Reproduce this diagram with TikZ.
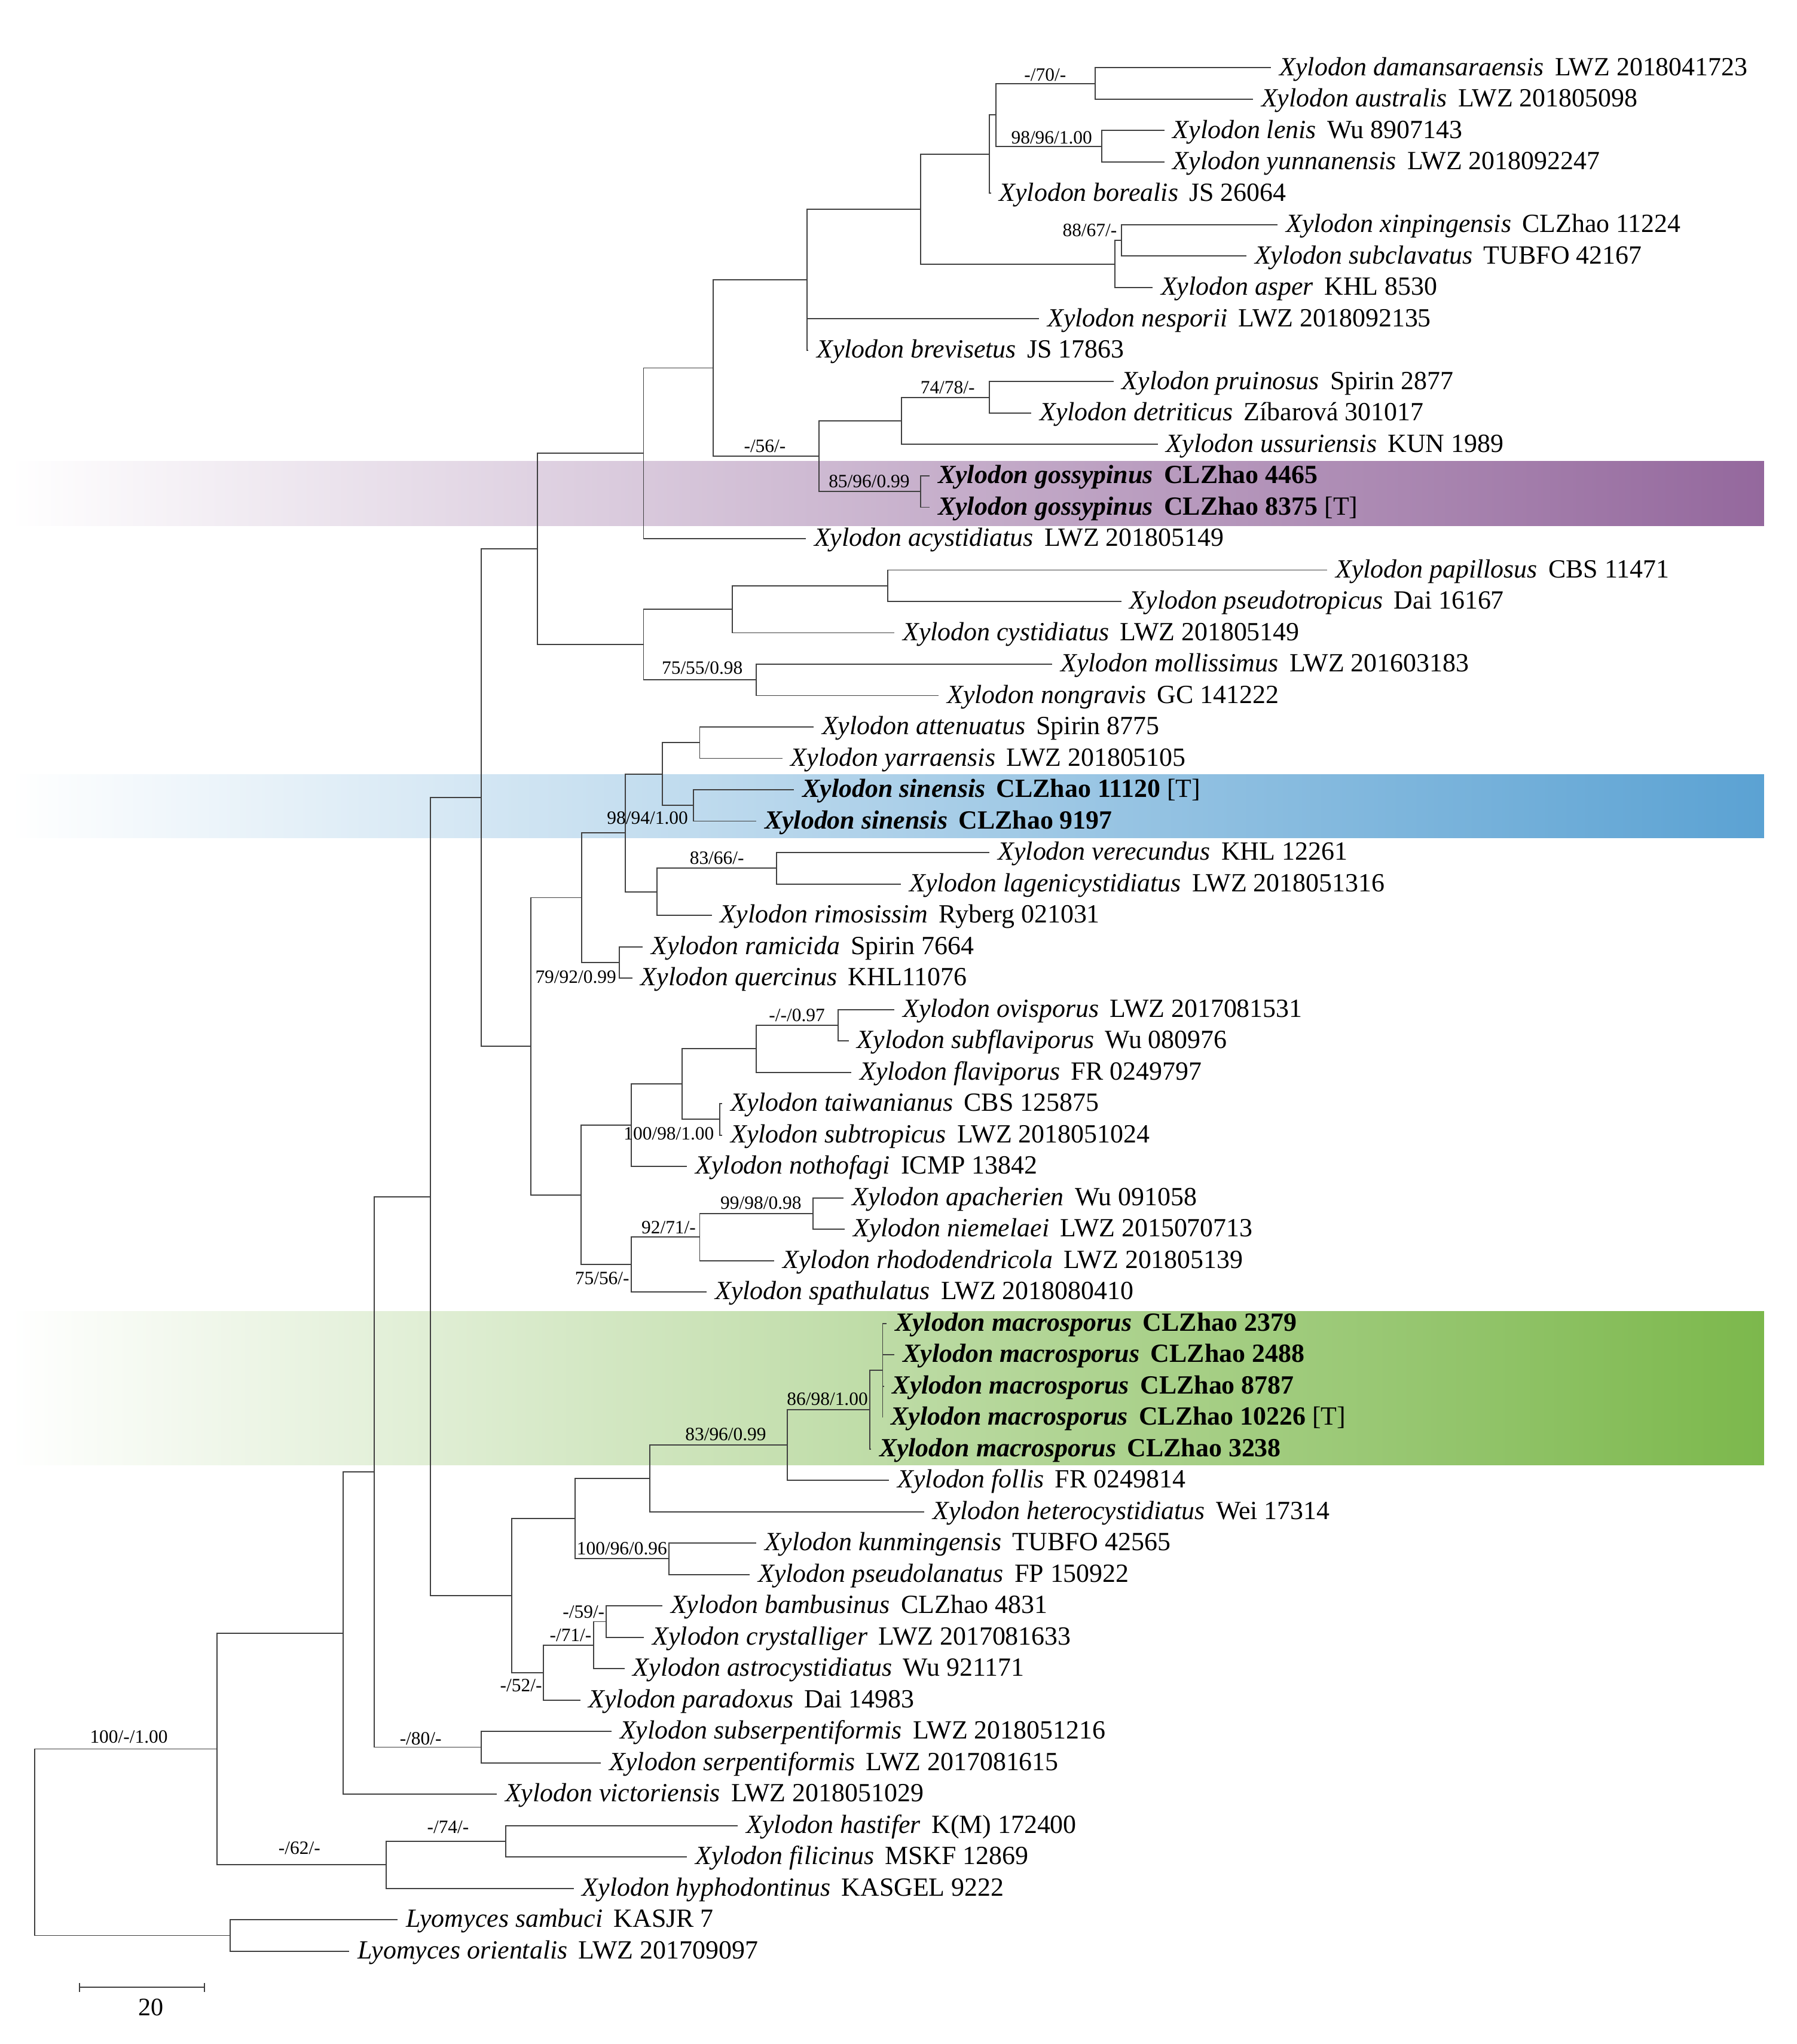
\documentclass[tikz,border=0pt]{standalone}
\usepackage{fontspec}
\setmainfont{Liberation Serif}

\definecolor{gossypinus}{RGB}{148,104,157}
\definecolor{sinensis}{RGB}{91,162,211}
\definecolor{macrosporus}{RGB}{124,184,76}

\newcommand{\taxon}[2]{\textit{#1}\hspace{0.42em}#2}
\newcommand{\newsp}[2]{\textbf{\textit{#1}\hspace{0.42em}#2}}

\tikzset{
  branch/.style={draw=black!75,line width=0.5pt},
  leaf/.style={anchor=west,inner xsep=3.5pt,inner ysep=0pt,text height=0.66em,text depth=0pt,font=\fontsize{11.45}{13}\selectfont},
  supp/.style={anchor=east,inner sep=0pt,text height=0.7em,text depth=0pt,font=\fontsize{8.2}{9}\selectfont},
}

\begin{document}
\begin{tikzpicture}[x=0.02cm,y=-0.4816cm]
\useasboundingbox (0,-1.1595) rectangle (1378,63.957);

%new species
\shade[left color=white,right color=gossypinus] (8,13.54) rectangle (1353,15.6);
\shade[left color=white,right color=sinensis] (8,23.51) rectangle (1353,25.54);
\shade[left color=white,right color=macrosporus] (8,40.62) rectangle (1353,45.52);

%taxa
\node[leaf] (t1) at (975,1) {\taxon{Xylodon damansaraensis}{LWZ 2018041723}};
\node[leaf] (t2) at (961,2) {\taxon{Xylodon australis}{LWZ 201805098}};
\node[leaf] (t3) at (893,3) {\taxon{Xylodon lenis}{Wu 8907143}};
\node[leaf] (t4) at (893,4) {\taxon{Xylodon yunnanensis}{LWZ 2018092247}};
\node[leaf] (t5) at (760,5) {\taxon{Xylodon borealis}{JS 26064}};
\node[leaf] (t6) at (980,6) {\taxon{Xylodon xinpingensis}{CLZhao 11224}};
\node[leaf] (t7) at (956,7) {\taxon{Xylodon subclavatus}{TUBFO 42167}};
\node[leaf] (t8) at (884,8) {\taxon{Xylodon asper}{KHL 8530}};
\node[leaf] (t9) at (797,9) {\taxon{Xylodon nesporii}{LWZ 2018092135}};
\node[leaf] (t10) at (620,10) {\taxon{Xylodon brevisetus}{JS 17863}};
\node[leaf] (t11) at (854,11) {\taxon{Xylodon pruinosus}{Spirin 2877}};
\node[leaf] (t12) at (791,12) {\taxon{Xylodon detriticus}{Zíbarová 301017}};
\node[leaf] (t13) at (888,13) {\taxon{Xylodon ussuriensis}{KUN 1989}};
\node[leaf] (t14) at (713,14) {\newsp{Xylodon gossypinus}{CLZhao 4465}};
\node[leaf] (t15) at (713,15) {\newsp{Xylodon gossypinus}{CLZhao 8375} [T]};
\node[leaf] (t16) at (618,16) {\taxon{Xylodon acystidiatus}{LWZ 201805149}};
\node[leaf] (t17) at (1018,17) {\taxon{Xylodon papillosus}{CBS 11471}};
\node[leaf] (t18) at (860,18) {\taxon{Xylodon pseudotropicus}{Dai 16167}};
\node[leaf] (t19) at (686,19) {\taxon{Xylodon cystidiatus}{LWZ 201805149}};
\node[leaf] (t20) at (807,20) {\taxon{Xylodon mollissimus}{LWZ 201603183}};
\node[leaf] (t21) at (720,21) {\taxon{Xylodon nongravis}{GC 141222}};
\node[leaf] (t22) at (624,22) {\taxon{Xylodon attenuatus}{Spirin 8775}};
\node[leaf] (t23) at (600,23) {\taxon{Xylodon yarraensis}{LWZ 201805105}};
\node[leaf] (t24) at (609,24) {\newsp{Xylodon sinensis}{CLZhao 11120} [T]};
\node[leaf] (t25) at (580,25) {\newsp{Xylodon sinensis}{CLZhao 9197}};
\node[leaf] (t26) at (759,26) {\taxon{Xylodon verecundus}{KHL 12261}};
\node[leaf] (t27) at (691,27) {\taxon{Xylodon lagenicystidiatus}{LWZ 2018051316}};
\node[leaf] (t28) at (546,28) {\taxon{Xylodon rimosissim}{Ryberg 021031}};
\node[leaf] (t29) at (493,29) {\taxon{Xylodon ramicida}{Spirin 7664}};
\node[leaf] (t30) at (485,30) {\taxon{Xylodon quercinus}{KHL11076}};
\node[leaf] (t31) at (686,31) {\taxon{Xylodon ovisporus}{LWZ 2017081531}};
\node[leaf] (t32) at (651,32) {\taxon{Xylodon subflaviporus}{Wu 080976}};
\node[leaf] (t33) at (653,33) {\taxon{Xylodon flaviporus}{FR 0249797}};
\node[leaf] (t34) at (554,34) {\taxon{Xylodon taiwanianus}{CBS 125875}};
\node[leaf] (t35) at (554,35) {\taxon{Xylodon subtropicus}{LWZ 2018051024}};
\node[leaf] (t36) at (527,36) {\taxon{Xylodon nothofagi}{ICMP 13842}};
\node[leaf] (t37) at (647,37) {\taxon{Xylodon apacherien}{Wu 091058}};
\node[leaf] (t38) at (648,38) {\taxon{Xylodon niemelaei}{LWZ 2015070713}};
\node[leaf] (t39) at (594,39) {\taxon{Xylodon rhododendricola}{LWZ 201805139}};
\node[leaf] (t40) at (542,40) {\taxon{Xylodon spathulatus}{LWZ 2018080410}};
\node[leaf] (t41) at (680,41) {\newsp{Xylodon macrosporus}{CLZhao 2379}};
\node[leaf] (t42) at (686,42) {\newsp{Xylodon macrosporus}{CLZhao 2488}};
\node[leaf] (t43) at (678,43) {\newsp{Xylodon macrosporus}{CLZhao 8787}};
\node[leaf] (t44) at (677,44) {\newsp{Xylodon macrosporus}{CLZhao 10226} [T]};
\node[leaf] (t45) at (668,45) {\newsp{Xylodon macrosporus}{CLZhao 3238}};
\node[leaf] (t46) at (682,46) {\taxon{Xylodon follis}{FR 0249814}};
\node[leaf] (t47) at (709,47) {\taxon{Xylodon heterocystidiatus}{Wei 17314}};
\node[leaf] (t48) at (580,48) {\taxon{Xylodon kunmingensis}{TUBFO 42565}};
\node[leaf] (t49) at (575,49) {\taxon{Xylodon pseudolanatus}{FP 150922}};
\node[leaf] (t50) at (508,50) {\taxon{Xylodon bambusinus}{CLZhao 4831}};
\node[leaf] (t51) at (494,51) {\taxon{Xylodon crystalliger}{LWZ 2017081633}};
\node[leaf] (t52) at (479,52) {\taxon{Xylodon astrocystidiatus}{Wu 921171}};
\node[leaf] (t53) at (445,53) {\taxon{Xylodon paradoxus}{Dai 14983}};
\node[leaf] (t54) at (469,54) {\taxon{Xylodon subserpentiformis}{LWZ 2018051216}};
\node[leaf] (t55) at (461,55) {\taxon{Xylodon serpentiformis}{LWZ 2017081615}};
\node[leaf] (t56) at (381,56) {\taxon{Xylodon victoriensis}{LWZ 2018051029}};
\node[leaf] (t57) at (566,57) {\taxon{Xylodon hastifer}{K(M) 172400}};
\node[leaf] (t58) at (527,58) {\taxon{Xylodon filicinus}{MSKF 12869}};
\node[leaf] (t59) at (440,59) {\taxon{Xylodon hyphodontinus}{KASGEL 9222}};
\node[leaf] (t60) at (305,60) {\taxon{Lyomyces sambuci}{KASJR 7}};
\node[leaf] (t61) at (268,61) {\taxon{Lyomyces orientalis}{LWZ 201709097}};

%internal nodes
\coordinate (nV) at (840,1.5);
\coordinate (nW) at (845,3.5);
\coordinate (nU) at (764,2.5);
\coordinate (nS) at (759,3.75);
\coordinate (nX) at (860,6.5);
\coordinate (nT) at (855,7.25);
\coordinate (nR) at (706,5.5);
\coordinate (nP) at (619,7.75);
\coordinate (nY2) at (759,11.5);
\coordinate (nY) at (691.5,12.25);
\coordinate (nZ) at (706,14.5);
\coordinate (nQ) at (628,13.375);
\coordinate (nO) at (547,10.5625);
\coordinate (nL) at (493.6,13.28125);
\coordinate (nAC) at (681,17.5);
\coordinate (nAA) at (561.5,18.25);
\coordinate (nAB) at (580,20.5);
\coordinate (nN) at (493.6,19.375);
\coordinate (nJ) at (412,16.328125);
\coordinate (nAJ) at (536.7,22.5);
\coordinate (nAK) at (532,24.5);
\coordinate (nAH) at (508,23.5);
\coordinate (nAL) at (595.5,26.5);
\coordinate (nAI) at (503.7,27.25);
\coordinate (nAF) at (479.5,25.375);
\coordinate (nAG) at (475,29.5);
\coordinate (nAD) at (446,27.4375);
\coordinate (nAR) at (643,31.5);
\coordinate (nAP) at (580,32.25);
\coordinate (nAQ) at (552,34.5);
\coordinate (nAO) at (523,33.375);
\coordinate (nAM) at (484,34.6875);
\coordinate (nAT) at (623.7,37.5);
\coordinate (nAS) at (536.7,38.25);
\coordinate (nAN) at (484,39.125);
\coordinate (nAE) at (445.7,36.90625);
\coordinate (nK) at (407,32.171875);
\coordinate (nE) at (369,24.25);
\coordinate (nM2) at (677,42.5);
\coordinate (nM) at (667,43.75);
\coordinate (nI) at (604,44.875);
\coordinate (nH) at (498.6,45.9375);
\coordinate (nKP) at (513,48.5);
\coordinate (nG) at (441,47.21875);
\coordinate (n59) at (465,50.5);
\coordinate (n71) at (455.5,51.25);
\coordinate (n52) at (416.7,52.125);
\coordinate (nF) at (392.6,49.671875);
\coordinate (nD) at (330,36.9609375);
\coordinate (n80) at (369,54.5);
\coordinate (nC) at (287,45.73046875);
\coordinate (nB) at (263,50.865234);
\coordinate (n74) at (388,57.5);
\coordinate (n62) at (296,58.25);
\coordinate (nA) at (166.4,54.557617);
\coordinate (nLy) at (176.5,60.5);
\coordinate (root) at (26.7,57.528809);

%branches
\draw[branch] (nV) |- (t1.west);
\draw[branch] (nV) |- (t2.west);
\draw[branch] (nW) |- (t3.west);
\draw[branch] (nW) |- (t4.west);
\draw[branch] (nU) |- (nV);
\draw[branch] (nU) |- (nW);
\draw[branch] (nS) |- (nU);
\draw[branch] (nS) |- (t5.west);
\draw[branch] (nX) |- (t6.west);
\draw[branch] (nX) |- (t7.west);
\draw[branch] (nT) |- (nX);
\draw[branch] (nT) |- (t8.west);
\draw[branch] (nR) |- (nS);
\draw[branch] (nR) |- (nT);
\draw[branch] (nP) |- (nR);
\draw[branch] (nP) |- (t9.west);
\draw[branch] (nP) |- (t10.west);
\draw[branch] (nY2) |- (t11.west);
\draw[branch] (nY2) |- (t12.west);
\draw[branch] (nY) |- (nY2);
\draw[branch] (nY) |- (t13.west);
\draw[branch] (nZ) |- (t14.west);
\draw[branch] (nZ) |- (t15.west);
\draw[branch] (nQ) |- (nY);
\draw[branch] (nQ) |- (nZ);
\draw[branch] (nO) |- (nP);
\draw[branch] (nO) |- (nQ);
\draw[branch] (nL) |- (nO);
\draw[branch] (nL) |- (t16.west);
\draw[branch] (nAC) |- (t17.west);
\draw[branch] (nAC) |- (t18.west);
\draw[branch] (nAA) |- (nAC);
\draw[branch] (nAA) |- (t19.west);
\draw[branch] (nAB) |- (t20.west);
\draw[branch] (nAB) |- (t21.west);
\draw[branch] (nN) |- (nAA);
\draw[branch] (nN) |- (nAB);
\draw[branch] (nJ) |- (nL);
\draw[branch] (nJ) |- (nN);
\draw[branch] (nAJ) |- (t22.west);
\draw[branch] (nAJ) |- (t23.west);
\draw[branch] (nAK) |- (t24.west);
\draw[branch] (nAK) |- (t25.west);
\draw[branch] (nAH) |- (nAJ);
\draw[branch] (nAH) |- (nAK);
\draw[branch] (nAL) |- (t26.west);
\draw[branch] (nAL) |- (t27.west);
\draw[branch] (nAI) |- (nAL);
\draw[branch] (nAI) |- (t28.west);
\draw[branch] (nAF) |- (nAH);
\draw[branch] (nAF) |- (nAI);
\draw[branch] (nAG) |- (t29.west);
\draw[branch] (nAG) |- (t30.west);
\draw[branch] (nAD) |- (nAF);
\draw[branch] (nAD) |- (nAG);
\draw[branch] (nAR) |- (t31.west);
\draw[branch] (nAR) |- (t32.west);
\draw[branch] (nAP) |- (nAR);
\draw[branch] (nAP) |- (t33.west);
\draw[branch] (nAQ) |- (t34.west);
\draw[branch] (nAQ) |- (t35.west);
\draw[branch] (nAO) |- (nAP);
\draw[branch] (nAO) |- (nAQ);
\draw[branch] (nAM) |- (nAO);
\draw[branch] (nAM) |- (t36.west);
\draw[branch] (nAT) |- (t37.west);
\draw[branch] (nAT) |- (t38.west);
\draw[branch] (nAS) |- (nAT);
\draw[branch] (nAS) |- (t39.west);
\draw[branch] (nAN) |- (nAS);
\draw[branch] (nAN) |- (t40.west);
\draw[branch] (nAE) |- (nAM);
\draw[branch] (nAE) |- (nAN);
\draw[branch] (nK) |- (nAD);
\draw[branch] (nK) |- (nAE);
\draw[branch] (nE) |- (nJ);
\draw[branch] (nE) |- (nK);
\draw[branch] (nM2) |- (t41.west);
\draw[branch] (nM2) |- (t42.west);
\draw[branch] (nM2) |- (t43.west);
\draw[branch] (nM2) |- (t44.west);
\draw[branch] (nM) |- (nM2);
\draw[branch] (nM) |- (t45.west);
\draw[branch] (nI) |- (nM);
\draw[branch] (nI) |- (t46.west);
\draw[branch] (nH) |- (nI);
\draw[branch] (nH) |- (t47.west);
\draw[branch] (nKP) |- (t48.west);
\draw[branch] (nKP) |- (t49.west);
\draw[branch] (nG) |- (nH);
\draw[branch] (nG) |- (nKP);
\draw[branch] (n59) |- (t50.west);
\draw[branch] (n59) |- (t51.west);
\draw[branch] (n71) |- (n59);
\draw[branch] (n71) |- (t52.west);
\draw[branch] (n52) |- (n71);
\draw[branch] (n52) |- (t53.west);
\draw[branch] (nF) |- (nG);
\draw[branch] (nF) |- (n52);
\draw[branch] (nD) |- (nE);
\draw[branch] (nD) |- (nF);
\draw[branch] (n80) |- (t54.west);
\draw[branch] (n80) |- (t55.west);
\draw[branch] (nC) |- (nD);
\draw[branch] (nC) |- (n80);
\draw[branch] (nB) |- (nC);
\draw[branch] (nB) |- (t56.west);
\draw[branch] (n74) |- (t57.west);
\draw[branch] (n74) |- (t58.west);
\draw[branch] (n62) |- (n74);
\draw[branch] (n62) |- (t59.west);
\draw[branch] (nA) |- (nB);
\draw[branch] (nA) |- (n62);
\draw[branch] (nLy) |- (t60.west);
\draw[branch] (nLy) |- (t61.west);
\draw[branch] (root) |- (nA);
\draw[branch] (root) |- (nLy);

%support values
\node[supp] (s1) at (818,1.17) {-/70/-};
\node[supp] (s2) at (838,3.16) {98/96/1.00};
\node[supp] (s3) at (857,6.11) {88/67/-};
\node[supp] (s4) at (748,11.13) {74/78/-};
\node[supp] (s5) at (603,13.0) {-/56/-};
\node[supp] (s6) at (698,14.12) {85/96/0.99};
\node[supp] (s7) at (570,20.06) {75/55/0.98};
\node[supp] (s8) at (528,24.84) {98/94/1.00};
\node[supp] (s9) at (571,26.12) {83/66/-};
\node[supp] (s10) at (473,29.9) {79/92/0.99};
\node[supp] (s11) at (633,31.12) {-/-/0.97};
\node[supp] (s12) at (548,34.9) {100/98/1.00};
\node[supp] (s13) at (615,37.1) {99/98/0.98};
\node[supp] (s14) at (534,37.89) {92/71/-};
\node[supp] (s15) at (483,39.5) {75/56/-};
\node[supp] (s16) at (666,43.36) {86/98/1.00};
\node[supp] (s17) at (588,44.48) {83/96/0.99};
\node[supp] (s18) at (512,48.12) {100/96/0.96};
\node[supp] (s19) at (464,50.13) {-/59/-};
\node[supp] (s20) at (454,50.88) {-/71/-};
\node[supp] (s21) at (416,52.48) {-/52/-};
\node[supp] (s22) at (339,54.16) {-/80/-};
\node[supp] (s23) at (129,54.11) {100/-/1.00};
\node[supp] (s24) at (246,57.66) {-/62/-};
\node[supp] (s25) at (360,56.98) {-/74/-};

%scale bar
\coordinate (sbl) at (61,62.15);
\coordinate (sbr) at (157,62.15);
\draw[branch] (sbl) -- (sbr);
\draw[branch] ([yshift=2pt]sbl) -- ([yshift=-2pt]sbl);
\draw[branch] ([yshift=2pt]sbr) -- ([yshift=-2pt]sbr);
\node[inner sep=0pt,text height=0.7em,text depth=0pt,font=\fontsize{11}{13}\selectfont] (sbt) at (115.6,62.79) {20};

\end{tikzpicture}
\end{document}
